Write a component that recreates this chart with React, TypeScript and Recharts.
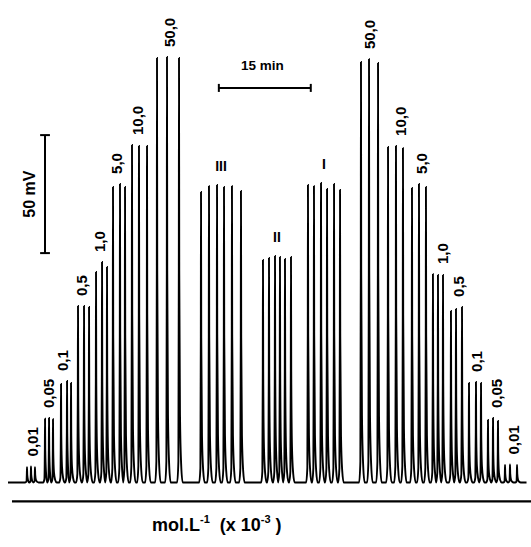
import React from 'react';
import {
  ComposedChart,
  Line,
  XAxis,
  YAxis,
  ReferenceLine,
  ReferenceDot,
} from 'recharts';

// standards, mol.L-1 (x 10-3), rising run then falling run
const concLabels = ['0,01', '0,05', '0,1', '0,5', '1,0', '5,0', '10,0', '50,0'];

// peak times (min) and heights (mV), 3 injections per standard
const risingTimes = [
  [3.1, 3.75, 4.4],
  [6.04, 6.69, 7.34],
  [8.65, 9.63, 10.28],
  [11.42, 12.4, 13.22],
  [14.36, 15.34, 16.15],
  [17.13, 18.27, 19.09],
  [20.23, 21.37, 22.68],
  [24.31, 25.94, 27.9],
];
const risingHeights = [
  [6.5, 6.8, 6.5],
  [27.0, 27.3, 26.8],
  [41.7, 43.0, 42.2],
  [74.8, 74.8, 74.4],
  [89.2, 93.4, 91.3],
  [125.2, 126.5, 125.2],
  [143.0, 142.6, 142.6],
  [179.9, 180.3, 179.9],
];
const risingLabelTimes = [3.92, 6.53, 8.97, 12.07, 14.85, 17.78, 21.05, 26.27];

// samples, 6 injections each
const sampleLabels = ['III', 'II', 'I'];
const sampleTimes = [
  [31.49, 32.79, 34.1, 35.24, 36.54, 38.01],
  [41.6, 42.58, 43.56, 44.37, 45.19, 46.17],
  [48.94, 49.92, 51.07, 52.05, 53.19, 54.17],
];
const sampleHeights = [
  [123.1, 125.6, 126.1, 125.2, 125.6, 123.5],
  [94.3, 95.1, 96.0, 95.6, 94.7, 95.6],
  [126.1, 125.6, 126.9, 124.4, 126.5, 124.0],
];

const fallingLabels = ['50,0', '10,0', '5,0', '1,0', '0,5', '0,1', '0,05', '0,01'];
const fallingTimes = [
  [57.59, 58.9, 60.37],
  [62.0, 63.3, 64.44],
  [65.91, 67.05, 68.19],
  [69.33, 70.15, 70.97],
  [72.27, 73.09, 74.07],
  [75.21, 76.35, 77.17],
  [78.31, 79.13, 79.94],
  [81.09, 81.9, 83.05],
];
const fallingHeights = [
  [178.2, 179.4, 177.8],
  [142.2, 142.6, 141.7],
  [124.8, 126.5, 125.2],
  [88.3, 87.9, 87.9],
  [72.7, 73.5, 74.4],
  [42.2, 42.6, 42.2],
  [26.5, 27.3, 26.1],
  [7.4, 7.6, 7.4],
];
const fallingLabelTimes = [59.06, 64.12, 67.54, 70.97, 73.58, 76.51, 79.78, 82.55];

const TRACE_START = 0;
const TRACE_END = 84.6;

// shape of one injection peak: [offset in min, fraction of height]
const PEAK_SHAPE = [
  [-0.3, 0],
  [-0.1, 0.05],
  [-0.03, 0.5],
  [0, 1],
  [0.04, 0.5],
  [0.16, 0.16],
  [0.36, 0.04],
  [0.6, 0],
];

const FONT = '"Liberation Sans", Arial, sans-serif';

function buildTrace() {
  const peaks: { t: number; h: number }[] = [];
  [risingTimes, sampleTimes, fallingTimes].forEach((groups, gi) => {
    const hs = [risingHeights, sampleHeights, fallingHeights][gi];
    groups.forEach((ts, i) => ts.forEach((t, j) => peaks.push({ t, h: hs[i][j] })));
  });
  peaks.sort((a, b) => a.t - b.t);
  const pts = [{ t: TRACE_START, v: 0 }];
  peaks.forEach((p, i) => {
    const next = peaks[i + 1];
    const limit = next ? next.t + PEAK_SHAPE[0][0] : Infinity;
    PEAK_SHAPE.forEach(([dt, f]) => {
      const t = p.t + dt;
      if (t < limit - 0.02 && t > pts[pts.length - 1].t) pts.push({ t, v: p.h * f });
    });
  });
  pts.push({ t: TRACE_END, v: 0 });
  return pts;
}

const trace = buildTrace();

const concMarks = [
  ...concLabels.map((name, i) => ({
    name,
    t: risingLabelTimes[i],
    v: Math.max(...risingHeights[i]),
  })),
  ...fallingLabels.map((name, i) => ({
    name,
    t: fallingLabelTimes[i],
    v: Math.max(...fallingHeights[i]),
  })),
];

const sampleMarks = sampleLabels.map((name, i) => ({
  name,
  t: (sampleTimes[i][0] + sampleTimes[i][sampleTimes[i].length - 1]) / 2,
  v: Math.max(...sampleHeights[i]),
}));

const TIME_BAR = [34.4, 49.4];
const TIME_BAR_Y = 167.2;
const MV_BAR_X = 6.04;
const MV_BAR = [97.2, 147.2];

export default function App() {
  const line = { stroke: '#000', strokeWidth: 2 };
  return (
    <div
      style={{
        position: 'absolute',
        left: 0,
        top: 0,
        width: 531,
        height: 547,
        background: '#fff',
      }}
    >
      <ComposedChart
        width={531}
        height={547}
        data={trace}
        margin={{ top: 45.9, right: 0, bottom: 36.2, left: 8 }}
      >
        <XAxis type="number" dataKey="t" domain={[0, 85.33]} allowDataOverflow hide />
        <YAxis type="number" domain={[-12, 185]} allowDataOverflow hide />

        {/* baseline axis */}
        <ReferenceLine
          segment={[
            { x: 0.65, y: -8 },
            { x: 85.33, y: -8 },
          ]}
          stroke="#000"
          strokeWidth={2.2}
        />

        {/* 15 min scale bar */}
        <ReferenceLine
          segment={[
            { x: TIME_BAR[0], y: TIME_BAR_Y },
            { x: TIME_BAR[1], y: TIME_BAR_Y },
          ]}
          {...line}
        />
        {TIME_BAR.map((x) => (
          <ReferenceLine
            key={'tb' + x}
            segment={[
              { x, y: TIME_BAR_Y - 1.7 },
              { x, y: TIME_BAR_Y + 1.7 },
            ]}
            {...line}
          />
        ))}
        <ReferenceDot
          x={41.5}
          y={TIME_BAR_Y}
          r={0}
          shape={(p: any) => (
            <text
              x={p.cx}
              y={p.cy - 18}
              textAnchor="middle"
              fontFamily={FONT}
              fontWeight="bold"
              fontSize={13.5}
              fill="#000"
            >
              15 min
            </text>
          )}
        />

        {/* 50 mV scale bar */}
        <ReferenceLine
          segment={[
            { x: MV_BAR_X, y: MV_BAR[0] },
            { x: MV_BAR_X, y: MV_BAR[1] },
          ]}
          {...line}
        />
        {MV_BAR.map((y) => (
          <ReferenceLine
            key={'mb' + y}
            segment={[
              { x: MV_BAR_X - 0.8, y },
              { x: MV_BAR_X + 0.8, y },
            ]}
            {...line}
          />
        ))}
        <ReferenceDot
          x={MV_BAR_X}
          y={(MV_BAR[0] + MV_BAR[1]) / 2}
          r={0}
          shape={(p: any) => (
            <text
              x={p.cx - 16}
              y={p.cy}
              transform={`rotate(-90 ${p.cx - 16} ${p.cy})`}
              textAnchor="middle"
              dominantBaseline="central"
              fontFamily={FONT}
              fontWeight="bold"
              fontSize={16}
              fill="#000"
            >
              50 mV
            </text>
          )}
        />

        <Line
          type="monotone"
          dataKey="v"
          stroke="#000"
          strokeWidth={1.9}
          dot={false}
          activeDot={false}
          isAnimationActive={false}
        />

        {concMarks.map((m, i) => (
          <ReferenceDot
            key={'c' + i}
            x={m.t}
            y={m.v}
            r={0}
            shape={(p: any) => (
              <text
                x={p.cx}
                y={p.cy - 10}
                transform={`rotate(-90 ${p.cx} ${p.cy - 10})`}
                textAnchor="start"
                dominantBaseline="central"
                fontFamily={FONT}
                fontWeight="bold"
                fontSize={15}
                fill="#000"
              >
                {m.name}
              </text>
            )}
          />
        ))}

        {sampleMarks.map((m, i) => (
          <ReferenceDot
            key={'s' + i}
            x={m.t}
            y={m.v}
            r={0}
            shape={(p: any) => (
              <text
                x={p.cx}
                y={p.cy - 14}
                textAnchor="middle"
                fontFamily={FONT}
                fontWeight="bold"
                fontSize={14}
                fill="#000"
              >
                {m.name}
              </text>
            )}
          />
        ))}
      </ComposedChart>

      <div
        style={{
          position: 'absolute',
          left: 152,
          top: 516,
          fontFamily: FONT,
          fontWeight: 'bold',
          fontSize: 18,
          lineHeight: '18px',
          whiteSpace: 'pre',
          color: '#000',
        }}
      >
        mol.L
        <span style={{ fontSize: 11, position: 'relative', top: -8 }}>-1</span>
        {'  (x 10'}
        <span style={{ fontSize: 11, position: 'relative', top: -8 }}>-3</span>
        {' )'}
      </div>
    </div>
  );
}
